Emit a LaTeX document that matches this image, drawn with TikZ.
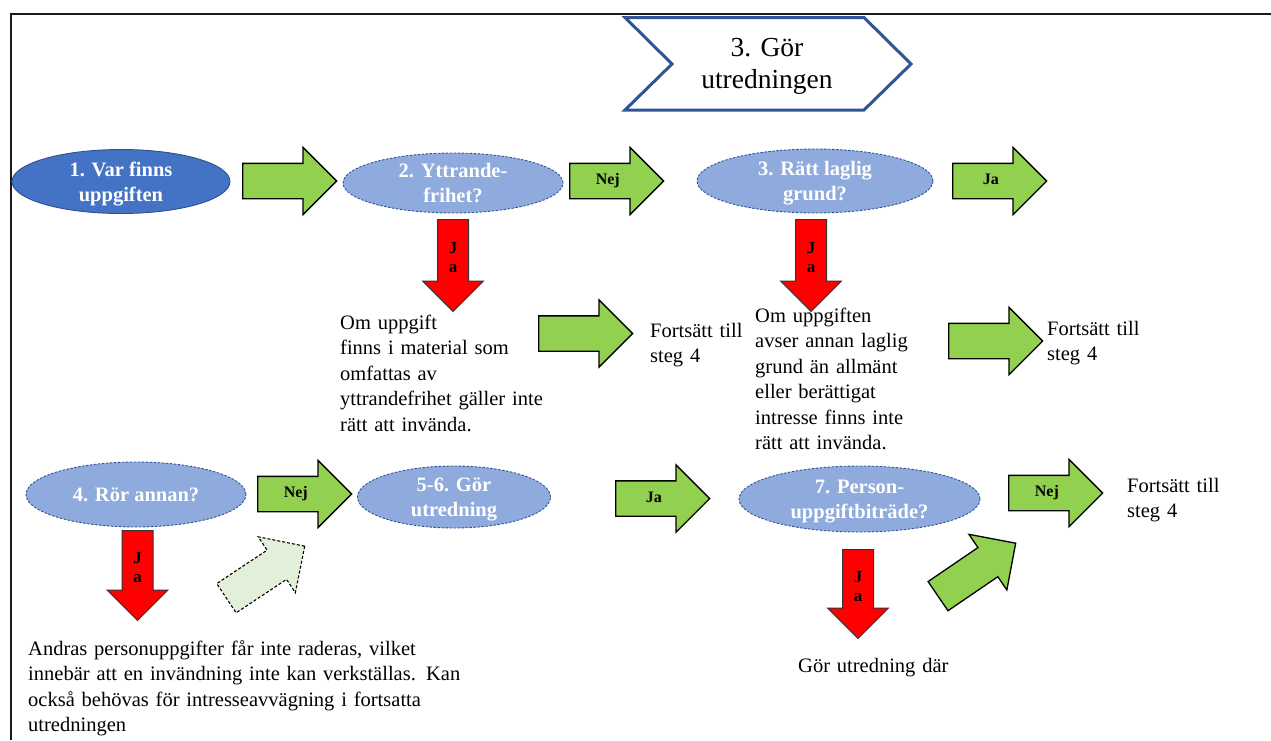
\documentclass[tikz,border=0pt]{standalone}
\usepackage{fontspec}
\setmainfont{Liberation Serif}
\usetikzlibrary{shapes.geometric,shapes.arrows}

\definecolor{frameblk}{HTML}{1A1A1A}
\definecolor{chevblue}{HTML}{2F5597}
\definecolor{darkfill}{HTML}{4472C4}
\definecolor{darkedge}{HTML}{2F528F}
\definecolor{lightfill}{HTML}{8FAADC}
\definecolor{lightedge}{HTML}{2F5597}
\definecolor{goahead}{HTML}{92D050}
\definecolor{stopred}{HTML}{FF0000}
\definecolor{palegreen}{HTML}{E2F0D9}

\tikzset{
  bodytext/.style={font=\fontsize{20.5}{25.5}\selectfont, text width=#1,
    align=left, inner sep=0pt, anchor=base west},
  bodytext/.default=140pt,
  qbase/.style={ellipse, align=center, inner sep=0pt, text=white,
    text depth=0pt, font=\bfseries\fontsize{20.5}{25}\selectfont},
  startq/.style={qbase, fill=darkfill, draw=darkedge, line width=0.9pt},
  question/.style={qbase, fill=lightfill, draw=lightedge, line width=0.9pt,
    dash pattern=on 2.5pt off 1.5pt},
  % shaft = text height + depth + 2 inner ysep = 34pt
  blockarrow/.style={single arrow, single arrow head extend=16pt,
    minimum height=94pt, minimum width=66pt,
    text height=11pt, text depth=4pt, inner xsep=0pt, inner ysep=9.5pt,
    draw=black, line width=1.3pt, fill=goahead, anchor=tail,
    font=\bfseries\fontsize{16}{18}\selectfont},
  downarrow/.style={single arrow, shape border rotate=270,
    single arrow head extend=15pt, minimum height=92pt, minimum width=60pt,
    text width=10pt, inner sep=10pt, draw=black!80, line width=1pt,
    fill=stopred, anchor=tail, align=center,
    font=\bfseries\fontsize{17}{19}\selectfont},
}

\begin{document}
\begin{tikzpicture}[x=1pt, y=-1pt]
\useasboundingbox (0,0) rectangle (1271,740);

% step banner
\draw[chevblue, fill=white, line width=3pt, line join=miter]
  (625,17.5) -- (864,17.5) -- (911,64) -- (864,110) -- (625,110) -- (672,64) -- cycle;
\node[font=\fontsize{27.5}{32}\selectfont, align=center, inner sep=0pt]
  (title) at (767,66) {3. Gör\\utredningen};

% page frame
\draw[frameblk, line width=2.5pt] (11,740) -- (11,14) -- (1271,14);

% questions
\node[startq, minimum width=218pt, minimum height=64pt] (q1) at (121,181.5) {1. Var finns\\uppgiften};
\node[question, minimum width=220pt, minimum height=60pt] (q2) at (453,183) {2. Yttrande-\\frihet?};
\node[question, minimum width=236pt, minimum height=64pt] (q3) at (815,181) {3. Rätt laglig\\grund?};
\node[question, minimum width=220pt, minimum height=65pt] (q4) at (136,494.5) {4. Rör annan?};
\node[question, minimum width=193pt, minimum height=62pt] (q56) at (454,497) {5-6. Gör\\utredning};
\node[question, minimum width=241pt, minimum height=66pt] (q7) at (859.5,499) {7. Person-\\uppgiftbiträde?};

% forward arrows
\node[blockarrow] (a12) at (242,181) {};
\node[blockarrow] (n23) at (569,181) {Nej};
\node[blockarrow] (j3) at (952,181) {Ja};
\node[blockarrow] (c2) at (538,333.5) {};
\node[blockarrow] (c3) at (948,341) {};
\node[blockarrow] (n45) at (257,494) {Nej};
\node[blockarrow] (j56) at (615,498.5) {Ja};
\node[blockarrow] (n7) at (1008,493) {Nej};
\node[blockarrow, rotate=33.6, fill=palegreen, line width=1.1pt,
  dash pattern=on 3pt off 2pt] (skip) at (226,598.5) {};
\node[blockarrow, rotate=34.3] (back) at (937.5,596.5) {};

% "Ja" branches downwards
\node[downarrow] (y2) at (453,219) {J\\a};
\node[downarrow] (y3) at (811,219) {J\\a};
\node[downarrow, minimum height=90pt] (y4) at (137.5,530) {J\\a};
\node[downarrow, minimum height=89pt] (y7) at (858,549) {J\\a};

% explanations
\node[bodytext=300pt] (t2) at (340,329) {Om uppgift\\finns i material som\\omfattas av\\yttrandefrihet gäller inte\\rätt att invända.};
\node[bodytext] (f2) at (650,337) {Fortsätt till\\steg 4};
\node[bodytext=200pt] (t3) at (755,322) {Om uppgiften\\avser annan laglig\\grund än allmänt\\eller berättigat\\intresse finns inte\\rätt att invända.};
\node[bodytext] (f3) at (1047,335) {Fortsätt till\\steg 4};
\node[bodytext] (f7) at (1127,492) {Fortsätt till\\steg 4};
\node[bodytext=460pt] (t4) at (28,655) {Andras personuppgifter får inte raderas, vilket\\innebär att en invändning inte kan verkställas. Kan\\också behövas för intresseavvägning i fortsatta\\utredningen};
\node[bodytext=200pt] (t7) at (798,672) {Gör utredning där};
\end{tikzpicture}
\end{document}
